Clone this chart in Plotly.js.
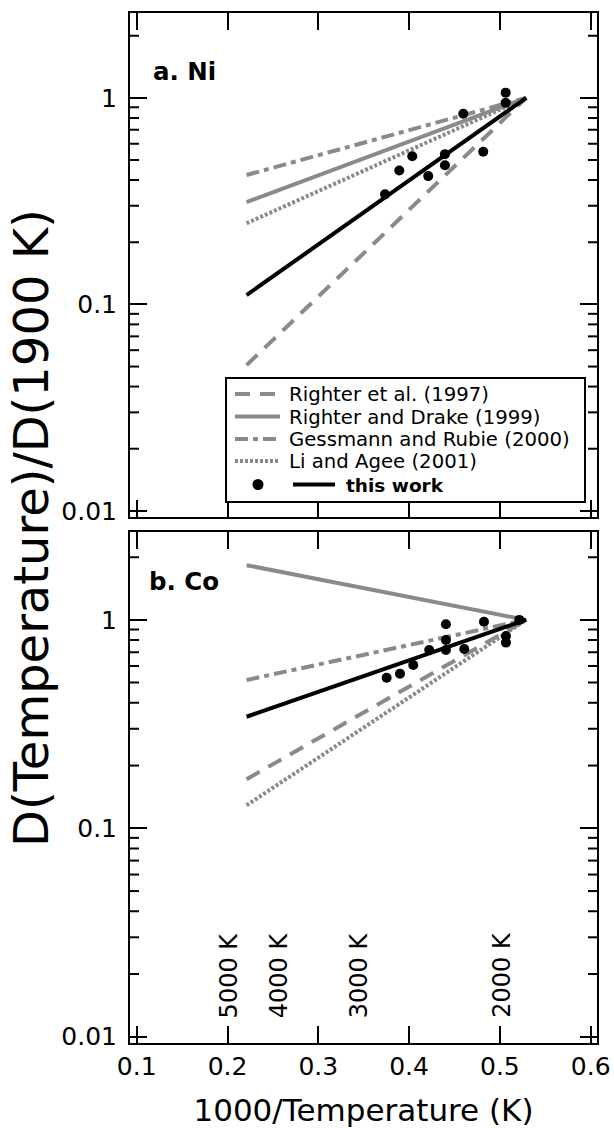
<!DOCTYPE html>
<html><head><meta charset="utf-8">
<script src="https://cdn.plot.ly/plotly-3.0.1.min.js"></script>
<style>html,body{margin:0;padding:0;background:#fff}</style>
</head><body><div id="chart" style="width:614px;height:1128px"></div>
<script>
// ---------- data ----------
const lineX = [0.221, 0.529];               // 1000/T endpoints of the model lines
const seriesNames = ['Righter et al. (1997)', 'Righter and Drake (1999)', 'Gessmann and Rubie (2000)', 'Li and Agee (2001)', 'this work'];

// a. Ni
const niRighter1997   = [0.0508, 1];
const niRighterDrake  = [0.313, 1];
const niGessmann      = [0.423, 1];
const niLiAgee        = [0.247, 1];
const niThisWork      = [0.111, 1];
const niDotX = [0.3735, 0.3892, 0.4035, 0.4211, 0.4395, 0.4395, 0.4597, 0.4817, 0.5064, 0.5064];
const niDotY = [0.341, 0.445, 0.522, 0.418, 0.534, 0.472, 0.837, 0.548, 1.06, 0.946];

// b. Co
const coRighter1997   = [0.172, 1];
const coRighterDrake  = [1.83, 1];
const coGessmann      = [0.515, 1];
const coLiAgee        = [0.129, 1];
const coThisWork      = [0.343, 1];
const coDotX = [0.3753, 0.390, 0.4046, 0.4222, 0.4406, 0.4406, 0.4406, 0.4608, 0.4825, 0.5067, 0.5067, 0.5214];
const coDotY = [0.528, 0.552, 0.608, 0.717, 0.953, 0.801, 0.717, 0.725, 0.98, 0.837, 0.778, 1.0];

const xTickVals = [0.1, 0.2, 0.3, 0.4, 0.5, 0.6];
const xTickText = ['0.1', '0.2', '0.3', '0.4', '0.5', '0.6'];
const tempLabels = ['5000 K', '4000 K', '3000 K', '2000 K'];

// ---------- styling ----------
const FONT = 'DejaVu Sans, Verdana, sans-serif';
const GRAY = '#8a8a8a';
const dashes = ['15px,10px', 'solid', '13px,5px,5px,5px', '3px,2px', 'solid'];
const colors = [GRAY, GRAY, GRAY, GRAY, '#000'];
const W = 614, H = 1128, ML = 130, MR = 17, MT = 13, MB = 85;
const PW = W - ML - MR, PH = H - MT - MB;
const px = v => (v - ML) / PW;
const py = v => (H - MB - v) / PH;
const xRange = [0.0926, 0.607];
const topDomain = [0.511, 1], botDomain = [0, 0.4964];
const topRange = [-2.028, 0.411], botRange = [-2.030, 0.423];

function panel(ys, dotX, dotY, xa, ya) {
  const tr = ys.map((y, i) => ({
    x: lineX, y: y, xaxis: xa, yaxis: ya, mode: 'lines', name: seriesNames[i],
    showlegend: false, hoverinfo: 'skip',
    line: {color: colors[i], width: 4, dash: dashes[i]}
  }));
  tr.push({x: dotX, y: dotY, xaxis: xa, yaxis: ya, mode: 'markers', showlegend: false,
    marker: {color: '#000', size: 10}});
  return tr;
}

// minor log tick decoration (2..9 per decade), inside, on both sides of a panel
function minorTicks(xa, ya, rng) {
  const d = 9 / PW * (xRange[1] - xRange[0]);
  const tx = [], ty = [];
  for (const dec of [-2, -1, 0]) {
    for (const m of [2, 3, 4, 5, 6, 7, 8, 9]) {
      if (dec + Math.log10(m) > rng[1]) continue;
      const v = m * Math.pow(10, dec);
      tx.push(xRange[0], xRange[0] + d, null, xRange[1] - d, xRange[1], null);
      ty.push(v, v, null, v, v, null);
    }
  }
  return {x: tx, y: ty, xaxis: xa, yaxis: ya, mode: 'lines', showlegend: false, hoverinfo: 'skip',
    line: {color: '#000', width: 2}, connectgaps: false};
}

const data = [
  ...panel([niRighter1997, niRighterDrake, niGessmann, niLiAgee, niThisWork], niDotX, niDotY, 'x2', 'y'),
  ...panel([coRighter1997, coRighterDrake, coGessmann, coLiAgee, coThisWork], coDotX, coDotY, 'x', 'y2'),
  minorTicks('x2', 'y', topRange),
  minorTicks('x', 'y2', botRange)
];

const xBase = {
  range: xRange, tickmode: 'array', tickvals: xTickVals, ticktext: xTickText,
  ticks: 'inside', ticklen: 17, tickwidth: 2, tickcolor: '#000',
  showline: true, linewidth: 2, linecolor: '#000', mirror: 'ticks',
  showgrid: false, zeroline: false, tickfont: {family: FONT, size: 25, color: '#000'}
};
const yBase = {
  type: 'log', tickmode: 'linear', tick0: 0, dtick: 1,
  ticks: 'inside', ticklen: 17, tickwidth: 2, tickcolor: '#000',
  showline: true, linewidth: 2, linecolor: '#000', mirror: 'ticks', ticklabelstandoff: 6,
  showgrid: false, zeroline: false, tickfont: {family: FONT, size: 25, color: '#000'}
};

const annotations = [
  {xref: 'paper', yref: 'paper', x: px(31), y: 0.5, text: 'D(Temperature)/D(1900 K)', textangle: -90,
   showarrow: false, font: {family: FONT, size: 48, color: '#000'}, xanchor: 'center', yanchor: 'middle'},
  {xref: 'paper', yref: 'paper', x: px(151), y: py(71), text: '<b>a. Ni</b>', showarrow: false,
   xanchor: 'left', yanchor: 'middle', font: {family: FONT, size: 24.5, color: '#000'}},
  {xref: 'paper', yref: 'paper', x: px(147), y: py(581), text: '<b>b. Co</b>', showarrow: false,
   xanchor: 'left', yanchor: 'middle', font: {family: FONT, size: 24.5, color: '#000'}}
];
const tempX = [0.202, 0.257, 0.345, 0.502];
tempLabels.forEach((t, i) => annotations.push({
  xref: 'x', yref: 'y2', x: tempX[i], y: -1.92, text: t, textangle: -90, showarrow: false,
  xanchor: 'center', yanchor: 'bottom', font: {family: FONT, size: 24, color: '#000'}
}));

// custom legend
const shapes = [];
shapes.push({type: 'rect', xref: 'paper', yref: 'paper', x0: px(226), x1: px(585), y0: py(502), y1: py(378),
   line: {color: '#000', width: 2}, fillcolor: '#fff', layer: 'above'});
const rowY = [394, 416.5, 439, 461, 484.5];
for (let i = 0; i < 4; i++) {
  shapes.push({type: 'line', xref: 'paper', yref: 'paper', x0: px(235), x1: px(280), y0: py(rowY[i]), y1: py(rowY[i]),
    line: {color: colors[i], width: 4, dash: dashes[i]}, layer: 'above'});
  annotations.push({xref: 'paper', yref: 'paper', x: px(288), y: py(rowY[i]), text: seriesNames[i], showarrow: false,
    xanchor: 'left', yanchor: 'middle', height: 22, valign: 'middle', borderpad: 0,
    font: {family: FONT, size: 19.7, color: '#000'}});
}
shapes.push({type: 'circle', xref: 'paper', yref: 'paper', x0: px(252.5), x1: px(263.5), y0: py(rowY[4] + 5.5), y1: py(rowY[4] - 5.5),
  fillcolor: '#000', line: {color: '#000', width: 0}, layer: 'above'});
shapes.push({type: 'line', xref: 'paper', yref: 'paper', x0: px(293), x1: px(335), y0: py(rowY[4]), y1: py(rowY[4]),
  line: {color: '#000', width: 4}, layer: 'above'});
annotations.push({xref: 'paper', yref: 'paper', x: px(345), y: py(rowY[4]), text: '<b>' + seriesNames[4] + '</b>', showarrow: false,
  xanchor: 'left', yanchor: 'middle', height: 22, valign: 'middle', borderpad: 0,
  font: {family: FONT, size: 18.5, color: '#000'}});

const layout = {
  width: W, height: H, margin: {l: ML, r: MR, t: MT, b: MB},
  paper_bgcolor: '#fff', plot_bgcolor: '#fff', showlegend: false,
  font: {family: FONT, color: '#000'},
  xaxis: Object.assign({}, xBase, {anchor: 'y2', domain: [0, 1],
    title: {text: '1000/Temperature (K)', font: {family: FONT, size: 31, color: '#000'}, standoff: 20}}),
  xaxis2: Object.assign({}, xBase, {anchor: 'y', domain: [0, 1], showticklabels: false}),
  yaxis: Object.assign({}, yBase, {anchor: 'x2', domain: topDomain, range: topRange}),
  yaxis2: Object.assign({}, yBase, {anchor: 'x', domain: botDomain, range: botRange}),
  annotations: annotations, shapes: shapes
};

Plotly.newPlot('chart', data, layout, {displayModeBar: false, staticPlot: true});
</script></body></html>
